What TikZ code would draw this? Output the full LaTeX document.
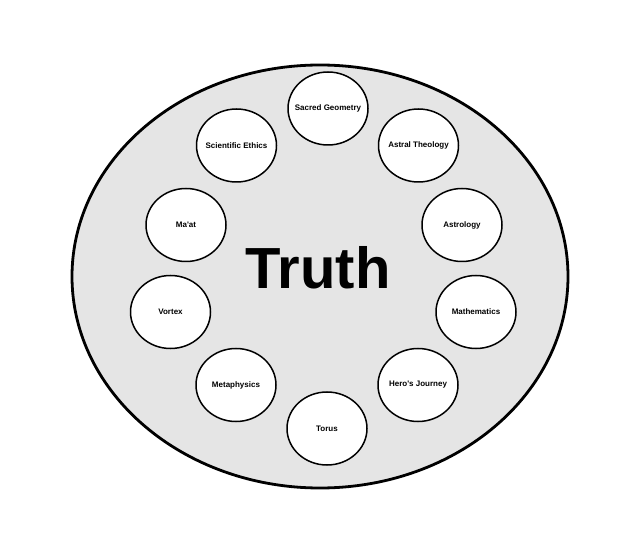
\documentclass[tikz,border=0pt]{standalone}
\usepackage{fontspec}
\setmainfont{Liberation Sans}
\usetikzlibrary{shapes.geometric}
\newcommand{\nowidth}[1]{\makebox[0pt]{#1}}
\begin{document}
\begin{tikzpicture}[x=1pt,y=-1pt,
  topic/.style={ellipse,draw=black,line width=1.5pt,fill=white,minimum width=80pt,minimum height=73pt,inner sep=0pt,font=\bfseries\fontsize{8}{9.6}\selectfont},
  outer/.style={ellipse,draw=black,line width=2.8pt,fill=black!10,minimum width=496pt,minimum height=423pt,inner sep=0pt}]
\useasboundingbox (0,0) rectangle (640,553);
\node[outer] (truthbg) at (320,276.5) {};
\node[font=\bfseries\fontsize{58}{60}\selectfont] (truth) at (318,268) {Truth};
\node[topic] (sg) at (328,108.5) {\nowidth{Sacred Geometry}};
\node[topic] (at) at (418.5,145.5) {\nowidth{Astral Theology}};
\node[topic] (as) at (462,225) {\nowidth{Astrology}};
\node[topic] (ma) at (476,312) {\nowidth{Mathematics}};
\node[topic] (hj) at (418,385) {\nowidth{Hero\textquotesingle s Journey}};
\node[topic] (to) at (327,428.5) {\nowidth{Torus}};
\node[topic] (mp) at (236,385) {\nowidth{Metaphysics}};
\node[topic] (vo) at (170.5,312) {\nowidth{Vortex}};
\node[topic] (mt) at (186,225) {\nowidth{Ma\textquotesingle at}};
\node[topic] (se) at (236.5,145.5) {\nowidth{Scientific Ethics}};
\end{tikzpicture}
\end{document}
